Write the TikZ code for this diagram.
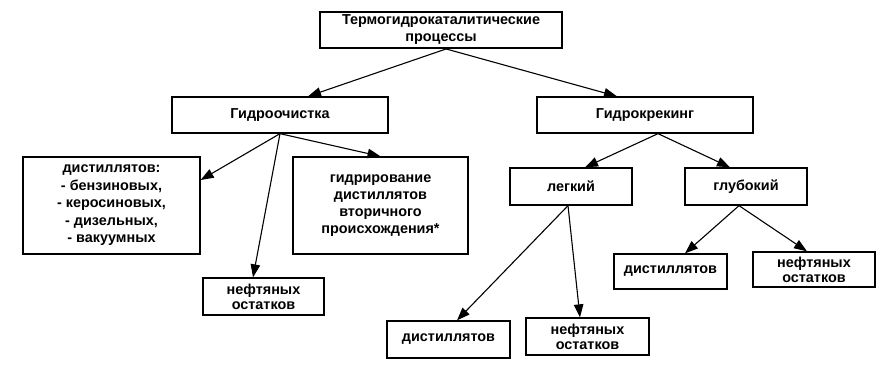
\documentclass[tikz,border=0pt]{standalone}
\usepackage{fontspec}
\setmainfont{Liberation Sans}
\usetikzlibrary{arrows.meta}
\begin{document}
\begin{tikzpicture}[x=1pt,y=-1pt,
  box/.style={draw,line width=1.3pt,align=center,inner sep=0pt,
    font=\fontsize{14.4}{17}\bfseries},
  arr/.style={line width=1.1pt,-{Triangle[length=13pt,width=9.5pt]}}]
\useasboundingbox (0,0) rectangle (888,366);
\node[box,minimum width=242pt,minimum height=36pt] (top) at (441,30) {Термогидрокаталитические\\процессы};
\node[box,minimum width=216pt,minimum height=36pt] (go) at (280,115) {Гидроочистка};
\node[box,minimum width=216pt,minimum height=36pt] (gk) at (645,115) {Гидрокрекинг};
\node[box,minimum width=177pt,minimum height=97pt,font=\fontsize{14.4}{17.5}\bfseries] (d1) at (111.5,205.5) {дистиллятов:\\- бензиновых,\\- керосиновых,\\- дизельных,\\- вакуумных};
\node[box,minimum width=175pt,minimum height=97pt,font=\fontsize{14.4}{16.8}\bfseries] (hy) at (380.5,205.5) {гидрирование\\дистиллятов\\вторичного\\происхождения*};
\node[box,minimum width=121pt,minimum height=37pt,font=\fontsize{14.4}{15}\bfseries] (n1) at (263.5,296.5) {нефтяных\\остатков};
\node[box,minimum width=122pt,minimum height=37pt] (lg) at (571,186.5) {легкий};
\node[box,minimum width=122pt,minimum height=37pt] (gl) at (746,186.5) {глубокий};
\node[box,minimum width=123pt,minimum height=37pt] (d2) at (448.5,339.5) {дистиллятов};
\node[box,minimum width=123pt,minimum height=37pt,font=\fontsize{14.4}{15}\bfseries] (n2) at (587.5,336.5) {нефтяных\\остатков};
\node[box,minimum width=113pt,minimum height=35pt] (d3) at (670.5,271.5) {дистиллятов};
\node[box,minimum width=122pt,minimum height=35pt,font=\fontsize{14.4}{15}\bfseries] (n3) at (814,269.5) {нефтяных\\остатков};
\draw[arr] ([xshift=6pt]top.south) -- ([xshift=28pt]go.north);
\draw[arr] ([xshift=4pt]top.south) -- ([xshift=-28pt]gk.north);
\draw[arr] (go.south) -- ([yshift=25.5pt]d1.east);
\draw[arr] (go.south) -- (hy.north);
\draw[arr] (go.south) -- ([xshift=-10.5pt]n1.north);
\draw[arr] ([xshift=13pt]gk.south) -- ([xshift=14pt]lg.north);
\draw[arr] ([xshift=13pt]gk.south) -- ([xshift=-16pt]gl.north);
\draw[arr] ([xshift=-3pt]lg.south) -- ([xshift=8.5pt]d2.north);
\draw[arr] ([xshift=-3pt]lg.south) -- ([xshift=-7.5pt]n2.north);
\draw[arr] ([xshift=-7pt]gl.south) -- ([xshift=14.5pt]d3.north);
\draw[arr] ([xshift=-7pt]gl.south) -- ([xshift=-7pt]n3.north);
\end{tikzpicture}
\end{document}
